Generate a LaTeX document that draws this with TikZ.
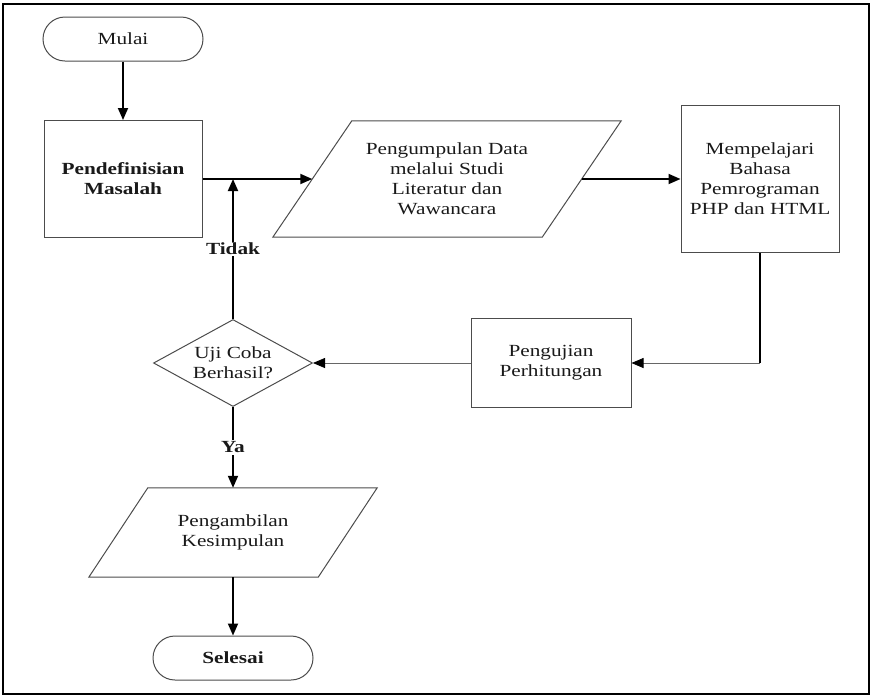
\documentclass[tikz,border=0pt]{standalone}
\usepackage{fontspec}
\setmainfont{Liberation Serif}[FakeStretch=1.25]
\usetikzlibrary{shapes.geometric,arrows.meta}
\begin{document}
\begin{tikzpicture}[x=1pt,y=-1pt,
  font=\fontsize{17}{20}\selectfont,
  every node/.style={text=black!90},
  shape line/.style={draw=black!70, line width=1pt},
  terminal/.style={shape line, rectangle, rounded corners=22pt, minimum width=160pt,
    minimum height=44pt, inner sep=0pt, align=center},
  process/.style={shape line, rectangle, inner sep=0pt, align=center},
  iobox/.style={rectangle, inner sep=0pt, align=center},
  decision/.style={shape line, diamond, inner sep=0pt, aspect=1.83,
    minimum width=159pt, minimum height=87pt, align=center},
  flow/.style={line width=1.8pt, -{Triangle[length=12pt,width=10pt]}},
  thinflow/.style={draw=black!60, line width=0.8pt,
    -{Triangle[length=12pt,width=10pt,color=black]}},
  tag/.style={fill=white, inner sep=1.5pt, font=\fontsize{17}{20}\selectfont\bfseries},
  heavy/.style={font=\fontsize{17}{20}\selectfont\bfseries}
]
\useasboundingbox (0,0) rectangle (874,697);
% outer frame
\draw[line width=2pt] (3,4) rectangle (869,694);

% flowchart nodes
\node[terminal] (start) at (123,39) {Mulai};
\node[process, heavy, minimum width=158pt, minimum height=117pt] (define) at (123,179)
  {Pendefinisian\\Masalah};
\node[iobox, minimum width=269pt, minimum height=116pt] (collect) at (447,179)
  {Pengumpulan Data\\melalui Studi\\Literatur dan\\Wawancara};
\draw[shape line] ([xshift=39.5pt]collect.north west) -- ([xshift=39.5pt]collect.north east)
  -- ([xshift=-39.5pt]collect.south east) -- ([xshift=-39.5pt]collect.south west) -- cycle;
\node[process, minimum width=158pt, minimum height=147pt] (learn) at (760,179)
  {Mempelajari\\Bahasa\\Pemrograman\\PHP dan HTML};
\node[process, minimum width=160pt, minimum height=89pt] (test) at (551,363)
  {Pengujian\\Perhitungan};
\node[decision] (check) at (233,363) {Uji Coba\\Berhasil?};
\node[iobox, minimum width=229pt, minimum height=89pt] (conclude) at (233,532.5)
  {Pengambilan\\Kesimpulan};
\draw[shape line] ([xshift=29.5pt]conclude.north west) -- ([xshift=29.5pt]conclude.north east)
  -- ([xshift=-29.5pt]conclude.south east) -- ([xshift=-29.5pt]conclude.south west) -- cycle;
\node[terminal, heavy] (finish) at (233,658) {Selesai};

% connectors
\draw[flow] (start.south) -- (define.north);
\draw[flow] (define.east) -- (collect.west);
\draw[flow] (collect.east) -- (learn.west);
\draw[line width=1.8pt] (learn.south) -- (learn.south |- test.east) coordinate (turn);
\draw[thinflow] (turn) -- (test.east);
\draw[thinflow] (test.west) -- (check.east);
\draw[flow] (check.north) -- (check.north |- define.east)
  node[tag, pos=0.5] {Tidak};
\draw[flow] (check.south) -- (conclude.north) node[tag, pos=0.5] {Ya};
\draw[flow] (conclude.south) -- (finish.north);
\end{tikzpicture}
\end{document}
